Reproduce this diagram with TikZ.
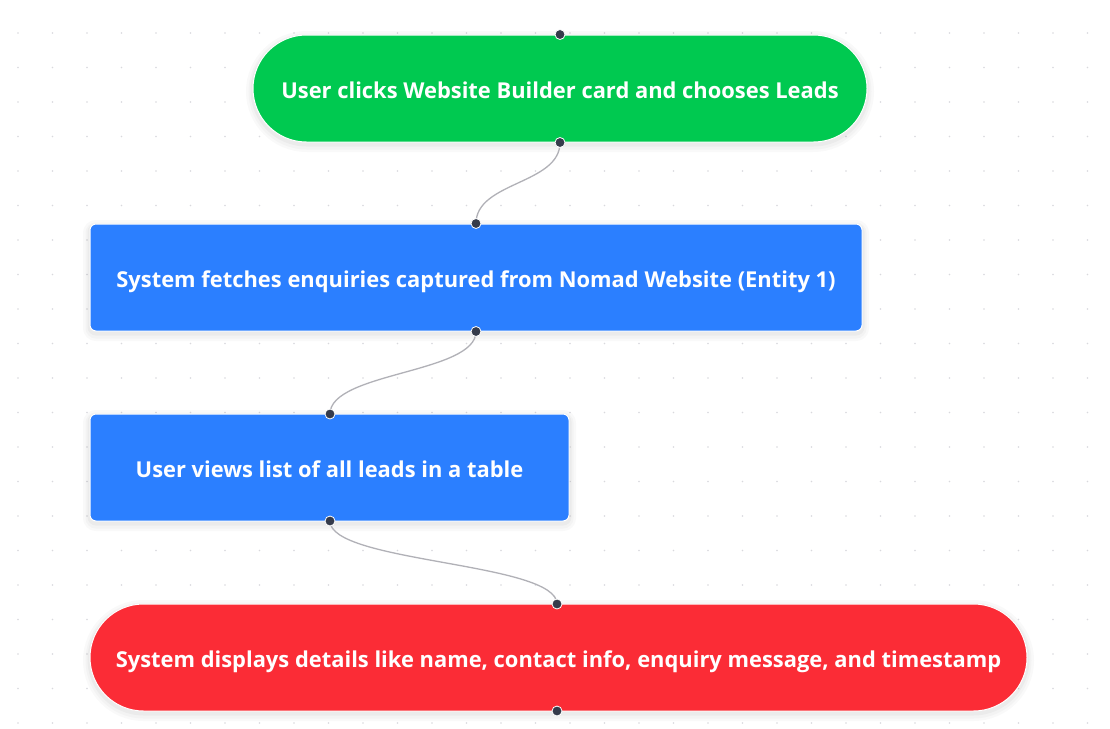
\documentclass[tikz,border=0pt]{standalone}
\usepackage{fontspec}
\setmainfont{Open Sans}
\definecolor{gridc}{HTML}{D9D9DD}
\definecolor{greenc}{HTML}{00C950}
\definecolor{bluec}{HTML}{2B7FFF}
\definecolor{redc}{HTML}{FB2C36}
\definecolor{edgec}{HTML}{B1B1B7}
\definecolor{handlec}{HTML}{353B4B}
\tikzset{
  box/.style={draw=white, line width=1pt, text=white, font=\fontsize{21.9}{26}\selectfont\bfseries, inner sep=0pt, text depth=0pt,
    preaction={draw=black, draw opacity=0.025, line width=14pt, transform canvas={yshift=-3pt}},
    preaction={draw=black, draw opacity=0.025, line width=9pt, transform canvas={yshift=-3pt}},
    preaction={draw=black, draw opacity=0.03, line width=5pt, transform canvas={yshift=-2pt}}},
  flowedge/.style={draw=edgec, line width=1.3pt},
  handle/.style={circle, fill=handlec, draw=white, line width=0.8pt, minimum size=10pt, inner sep=0pt}
}
\newcommand{\lowtext}[1]{\raisebox{-3pt}{#1}}
\begin{document}
\begin{tikzpicture}[x=1pt,y=-1pt]
\useasboundingbox (0,0) rectangle (1110,728);
\fill[white] (0,0) rectangle (1110,728);
\foreach \i in {0,...,31}{
  \foreach \j in {1,...,21}{
    \fill[gridc] ({18+34.5*\i},{-1.5+34.5*\j}) circle (0.9);
  }
}
% nodes
\node[box, fill=greenc, rounded corners=53.5pt, minimum width=614pt, minimum height=107pt] (n1) at (560,88.5) {\lowtext{User clicks Website Builder card and chooses Leads}};
\node[box, fill=bluec, rounded corners=6pt, minimum width=772pt, minimum height=107pt] (n2) at (476,277.5) {\lowtext{System fetches enquiries captured from Nomad Website (Entity 1)}};
\node[box, fill=bluec, rounded corners=6pt, minimum width=479pt, minimum height=107pt] (n3) at (329.5,467.5) {\lowtext{User views list of all leads in a table}};
\node[box, fill=redc, rounded corners=53.5pt, minimum width=937pt, minimum height=107pt] (n4) at (558.5,657.5) {\lowtext{System displays details like name, contact info, enquiry message, and timestamp}};
% edges
\coordinate (n3t) at (330,414);
\coordinate (n3b) at (330,521);
\coordinate (n4t) at (557,604);
\coordinate (n4b) at (557,711);
\draw[flowedge] (n1.south) .. controls ([yshift=-42pt]n1.south) and ([yshift=42pt]n2.north) .. (n2.north);
\draw[flowedge] (n2.south) .. controls ([yshift=-42pt]n2.south) and ([yshift=42pt]n3t) .. (n3t);
\draw[flowedge] (n3b) .. controls ([yshift=-42pt]n3b) and ([yshift=42pt]n4t) .. (n4t);
% handles
\node[handle] (h1) at (n1.north) {};
\node[handle] (h2) at (n1.south) {};
\node[handle] (h3) at (n2.north) {};
\node[handle] (h4) at (n2.south) {};
\node[handle] (h5) at (n3t) {};
\node[handle] (h6) at (n3b) {};
\node[handle] (h7) at (n4t) {};
\node[handle] (h8) at (n4b) {};
\end{tikzpicture}
\end{document}
